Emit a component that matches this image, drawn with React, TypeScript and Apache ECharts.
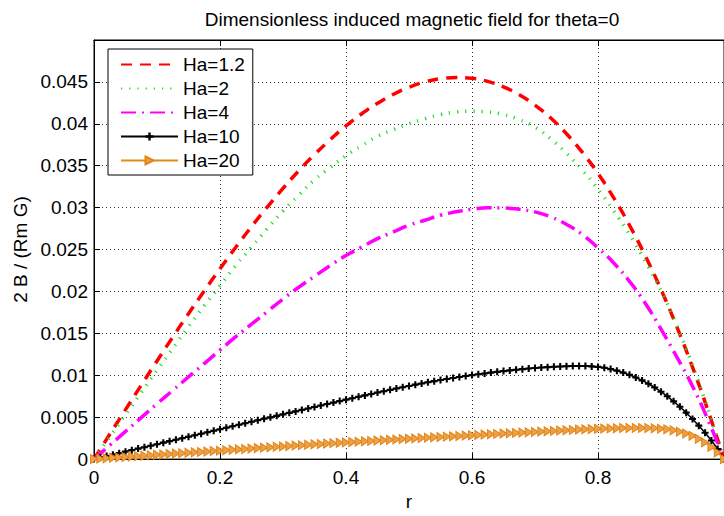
import React, { useEffect, useRef } from 'react';
import * as echarts from 'echarts';

const TITLE = 'Dimensionless induced magnetic field for theta=0';
const X_NAME = 'r';
const Y_NAME = '2 B / (Rm G)';
const SERIES_NAMES = ['Ha=1.2', 'Ha=2', 'Ha=4', 'Ha=10', 'Ha=20'];

const R_MID = [
  0, 0.025, 0.05, 0.075, 0.1, 0.125, 0.15, 0.175, 0.2, 0.225,
  0.25, 0.275, 0.3, 0.325, 0.35, 0.375, 0.4, 0.425, 0.45, 0.475,
  0.5, 0.525, 0.55, 0.575, 0.6, 0.625, 0.65, 0.675, 0.7, 0.725,
  0.75, 0.775, 0.8, 0.825, 0.85, 0.875, 0.9, 0.925, 0.95, 0.975,
  1
];
const HA_1_2 = [
  0, 0.00296, 0.0059, 0.00882, 0.01171, 0.01456, 0.01735, 0.02007, 0.02271, 0.02527,
  0.02773, 0.03007, 0.0323, 0.03439, 0.03633, 0.03812, 0.03975, 0.0412, 0.04245, 0.04351,
  0.04436, 0.04499, 0.04538, 0.04553, 0.04543, 0.04506, 0.0444, 0.04347, 0.04222, 0.04069,
  0.03881, 0.03662, 0.03407, 0.03117, 0.0279, 0.02426, 0.02023, 0.0158, 0.01096, 0.0057,
  0
];
const HA_2 = [
  0, 0.00265, 0.0053, 0.00795, 0.0106, 0.0132, 0.0158, 0.0183, 0.0207, 0.0231,
  0.0253, 0.0275, 0.0296, 0.0315, 0.0333, 0.0348, 0.0362, 0.0374, 0.0385, 0.0393,
  0.04, 0.0406, 0.0411, 0.0414, 0.0415, 0.04142, 0.0411, 0.0405, 0.0396, 0.0382,
  0.0365, 0.0345, 0.0322, 0.0296, 0.0268, 0.0236, 0.0201, 0.0159, 0.0112, 0.0058,
  0
];
const HA_4 = [
  0, 0.00165, 0.0033, 0.00495, 0.0066, 0.0082, 0.0098, 0.0114, 0.013, 0.0146,
  0.0161, 0.0176, 0.0191, 0.0205, 0.0218, 0.0231, 0.0243, 0.0253, 0.0263, 0.0271,
  0.0279, 0.0285, 0.0291, 0.0295, 0.0298, 0.02998, 0.02996, 0.0298, 0.0295, 0.0289,
  0.028, 0.0268, 0.0252, 0.0234, 0.0212, 0.0186, 0.0155, 0.0122, 0.0087, 0.0046,
  0
];

const R_FINE = [
  0, 0.01, 0.02, 0.03, 0.04, 0.05, 0.06, 0.07, 0.08, 0.09,
  0.1, 0.11, 0.12, 0.13, 0.14, 0.15, 0.16, 0.17, 0.18, 0.19,
  0.2, 0.21, 0.22, 0.23, 0.24, 0.25, 0.26, 0.27, 0.28, 0.29,
  0.3, 0.31, 0.32, 0.33, 0.34, 0.35, 0.36, 0.37, 0.38, 0.39,
  0.4, 0.41, 0.42, 0.43, 0.44, 0.45, 0.46, 0.47, 0.48, 0.49,
  0.5, 0.51, 0.52, 0.53, 0.54, 0.55, 0.56, 0.57, 0.58, 0.59,
  0.6, 0.61, 0.62, 0.63, 0.64, 0.65, 0.66, 0.67, 0.68, 0.69,
  0.7, 0.71, 0.72, 0.73, 0.74, 0.75, 0.76, 0.77, 0.78, 0.79,
  0.8, 0.81, 0.82, 0.83, 0.84, 0.85, 0.86, 0.87, 0.88, 0.89,
  0.9, 0.91, 0.92, 0.93, 0.94, 0.95, 0.96, 0.97, 0.98, 0.99,
  1
];
const HA_10 = [
  0, 0.00018, 0.00036, 0.00053, 0.00071, 0.00089, 0.00107, 0.00125, 0.00142, 0.00160,
  0.00178, 0.00196, 0.00214, 0.00231, 0.00249, 0.00267, 0.00285, 0.00303, 0.00320, 0.00338,
  0.00356, 0.00374, 0.00392, 0.00409, 0.00427, 0.00445, 0.00463, 0.00481, 0.00498, 0.00516,
  0.00534, 0.00552, 0.00569, 0.00587, 0.00604, 0.00622, 0.00639, 0.00657, 0.00674, 0.00692,
  0.00709, 0.00726, 0.00743, 0.00760, 0.00777, 0.00794, 0.00810, 0.00826, 0.00842, 0.00858,
  0.00873, 0.00888, 0.00902, 0.00916, 0.00930, 0.00943, 0.00956, 0.00968, 0.00980, 0.00991,
  0.01002, 0.01012, 0.01022, 0.01032, 0.01041, 0.01050, 0.01058, 0.01066, 0.01073, 0.01080,
  0.01086, 0.01092, 0.01097, 0.01101, 0.01105, 0.01108, 0.01110, 0.01111, 0.01110, 0.01106,
  0.01100, 0.01089, 0.01074, 0.01055, 0.01032, 0.01005, 0.00974, 0.00939, 0.00899, 0.00854,
  0.00804, 0.00749, 0.00689, 0.00624, 0.00554, 0.00479, 0.00399, 0.00314, 0.00222, 0.00120,
  0
];
const HA_20 = [
  0, 0.00005, 0.00010, 0.00015, 0.00020, 0.00025, 0.00030, 0.00035, 0.00040, 0.00046,
  0.00051, 0.00056, 0.00061, 0.00066, 0.00071, 0.00076, 0.00081, 0.00086, 0.00091, 0.00096,
  0.00101, 0.00106, 0.00111, 0.00116, 0.00121, 0.00126, 0.00131, 0.00136, 0.00141, 0.00146,
  0.00151, 0.00156, 0.00161, 0.00166, 0.00171, 0.00176, 0.00180, 0.00185, 0.00190, 0.00195,
  0.00199, 0.00204, 0.00208, 0.00213, 0.00217, 0.00222, 0.00226, 0.00230, 0.00235, 0.00239,
  0.00243, 0.00247, 0.00251, 0.00256, 0.00260, 0.00264, 0.00268, 0.00272, 0.00276, 0.00280,
  0.00284, 0.00288, 0.00292, 0.00296, 0.00300, 0.00304, 0.00308, 0.00312, 0.00316, 0.00320,
  0.00324, 0.00328, 0.00332, 0.00336, 0.00340, 0.00344, 0.00348, 0.00352, 0.00355, 0.00358,
  0.00361, 0.00364, 0.00366, 0.00368, 0.00370, 0.00371, 0.00372, 0.00372, 0.00371, 0.00368,
  0.00363, 0.00355, 0.00343, 0.00327, 0.00305, 0.00278, 0.00243, 0.00199, 0.00145, 0.00080,
  0
];

const FONT = "'Liberation Sans', Arial, Helvetica, sans-serif";
const PLUS = 'path://M3.5,0 H6.5 V3.5 H10 V6.5 H6.5 V10 H3.5 V6.5 H0 V3.5 H3.5 Z';
const TRI = 'path://M0,0 L10,5 L0,10 Z';

const pairs = (xs: number[], ys: number[]) => xs.map((x, i) => [x, ys[i]]);
const fmt = (v: number) => (v === 0 ? '0' : String(+v.toFixed(3)));

export default function App() {
  const ref = useRef<HTMLDivElement>(null);
  useEffect(() => {
    if (!ref.current) return;
    const chart = echarts.init(ref.current, undefined, { renderer: 'svg' });
    const axisText = { fontFamily: FONT, fontSize: 19, color: '#000' };
    const dashed = (name: string, ys: number[], color: string, type: number[]) => ({
      name,
      type: 'line',
      data: pairs(R_MID, ys),
      smooth: true,
      symbol: 'circle',
      symbolSize: 4,
      showSymbol: false,
      itemStyle: { color },
      lineStyle: { color, width: 3.5, type },
    });
    const legendData = SERIES_NAMES.map((name, i) =>
      i < 3 ? { name, itemStyle: { opacity: 0 } } : { name }
    );
    chart.setOption({
      animation: false,
      backgroundColor: '#ffffff',
      textStyle: { fontFamily: FONT },
      title: {
        text: TITLE,
        left: 412,
        top: 10,
        padding: 0,
        textAlign: 'center',
        textStyle: { fontFamily: FONT, fontSize: 19, fontWeight: 'normal', color: '#000' },
      },
      legend: {
        data: legendData,
        orient: 'vertical',
        left: 108,
        top: 49,
        padding: [6, 8, 5, 12],
        itemWidth: 57,
        itemHeight: 10,
        itemGap: 5,
        backgroundColor: '#ffffff',
        borderColor: '#000',
        borderWidth: 1,
        borderRadius: 0,
        textStyle: { fontFamily: FONT, fontSize: 19, color: '#000' },
        z: 10,
      },
      grid: {
        left: 94,
        top: 40,
        width: 632,
        height: 424,
        show: true,
        borderColor: '#000',
        borderWidth: 1,
        backgroundColor: 'transparent',
      },
      xAxis: [
        {
          type: 'value',
          min: 0,
          max: 1,
          interval: 0.2,
          position: 'bottom',
          name: X_NAME,
          nameLocation: 'middle',
          nameGap: 22,
          nameTextStyle: axisText,
          axisLine: { show: true, onZero: false, lineStyle: { color: '#000', width: 1 } },
          axisTick: { show: true, inside: true, length: 6, lineStyle: { color: '#000' } },
          axisLabel: { ...axisText, margin: 9, showMaxLabel: false, formatter: fmt },
          splitLine: { show: true, lineStyle: { color: '#333', width: 1, type: [1, 3] } },
        },
        {
          type: 'value',
          min: 0,
          max: 1,
          interval: 0.2,
          position: 'top',
          axisLine: { show: true, onZero: false, lineStyle: { color: '#000', width: 1 } },
          axisTick: { show: true, inside: true, length: 6, lineStyle: { color: '#000' } },
          axisLabel: { show: false },
          splitLine: { show: false },
        },
      ],
      yAxis: {
        type: 'value',
        min: 0,
        max: 0.05,
        interval: 0.005,
        name: Y_NAME,
        nameLocation: 'middle',
        nameGap: 63,
        nameTextStyle: axisText,
        axisLine: { show: true, onZero: false, lineStyle: { color: '#000', width: 1 } },
        axisTick: { show: true, inside: true, length: 6, lineStyle: { color: '#000' } },
        axisLabel: { ...axisText, margin: 6, showMaxLabel: false, formatter: fmt },
        splitLine: { show: true, lineStyle: { color: '#333', width: 1, type: [1, 3] } },
      },
      series: [
        dashed(SERIES_NAMES[0], HA_1_2, '#FF0000', [11, 8]),
        dashed(SERIES_NAMES[1], HA_2, '#22DD22', [1.2, 7]),
        dashed(SERIES_NAMES[2], HA_4, '#FF00FF', [15, 6, 2, 6]),
        {
          name: SERIES_NAMES[3],
          type: 'line',
          data: pairs(R_FINE, HA_10),
          symbol: PLUS,
          symbolSize: 7,
          showSymbol: true,
          showAllSymbol: true,
          itemStyle: { color: '#000000' },
          lineStyle: { color: '#000000', width: 1.5 },
        },
        {
          name: SERIES_NAMES[4],
          type: 'line',
          data: pairs(R_FINE, HA_20),
          symbol: TRI,
          symbolSize: [7, 9],
          symbolKeepAspect: false,
          showSymbol: true,
          showAllSymbol: true,
          itemStyle: { color: '#EDA048', borderColor: '#E08516', borderWidth: 1 },
          lineStyle: { color: '#E58A1A', width: 1.5 },
        },
      ],
    });
    return () => chart.dispose();
  }, []);
  return (
    <div
      ref={ref}
      style={{ position: 'fixed', left: 0, top: 0, width: 724, height: 516, background: '#fff' }}
    />
  );
}
